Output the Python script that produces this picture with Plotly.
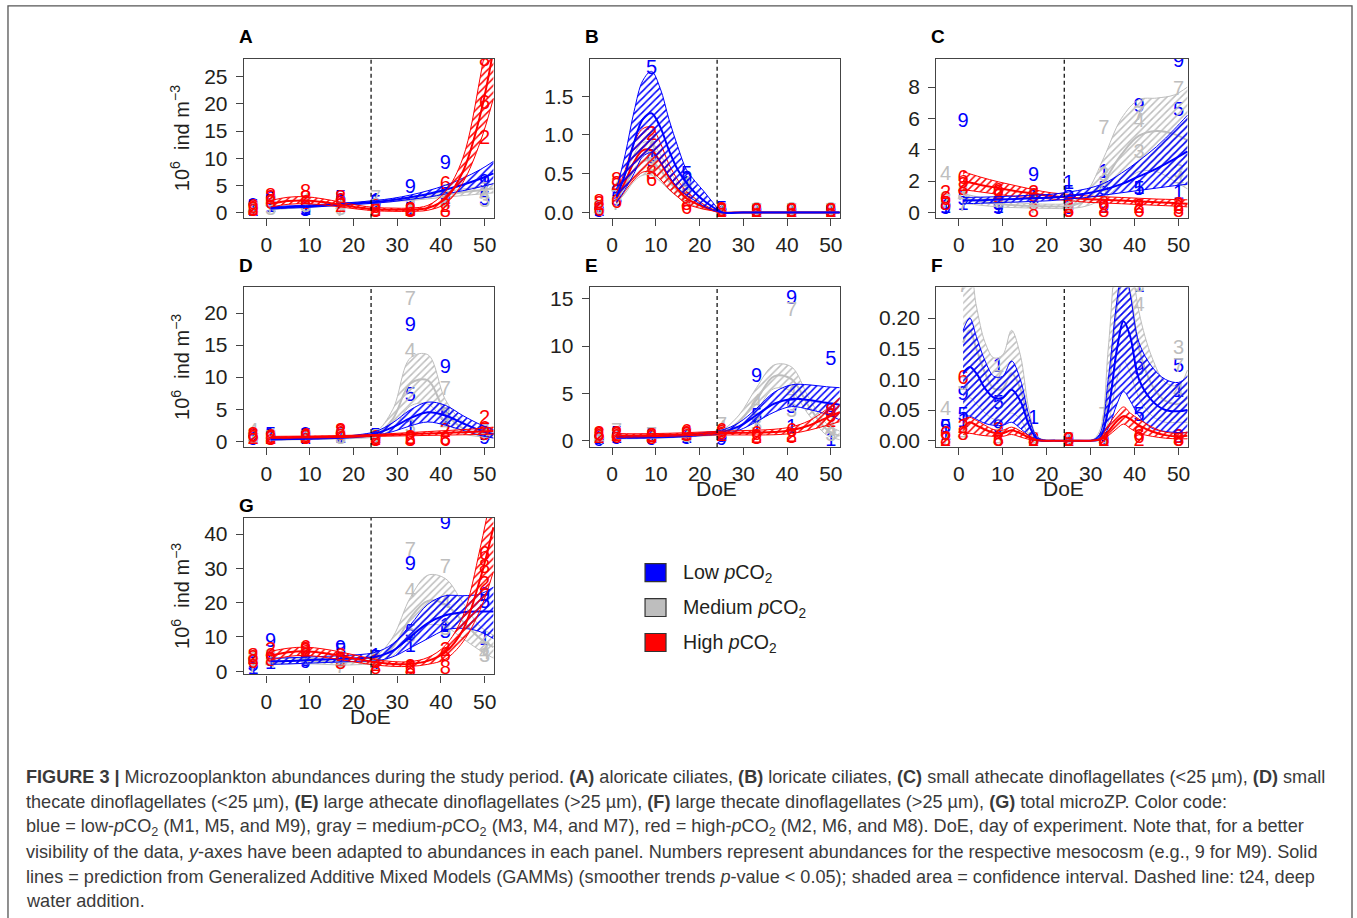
import plotly.graph_objects as go

W, H = 1357, 918

# ---------------- sampling days & fit grids ----------------
DAYS = [-3, 1, 9, 17, 25, 33, 41, 50]
GRID = [1, 5, 9, 13, 17, 21, 25, 29, 33, 37, 41, 45, 49, 52]
GRID_B = [1, 3, 5, 7, 9, 11, 13, 15, 17, 19, 21, 23, 25, 30, 40, 52]
GRID_F = [1, 2.5, 4, 6, 8, 10, 12, 14, 16, 18, 22, 26, 30, 32, 34, 36, 37.5, 39, 41, 44, 47, 50, 52]

LOW_IDS = ["1", "5", "9"]
MED_IDS = ["3", "4", "7"]
HIGH_IDS = ["2", "6", "8"]

# ---------------- Panel A: aloricate ciliates ----------------
A_low_mean = [0.8, 1.0, 1.1, 1.3, 1.5, 1.7, 1.9, 2.3, 2.8, 3.4, 4.2, 5.1, 6.2, 7.2]
A_low_lo = [0.6, 0.8, 0.9, 1.1, 1.3, 1.5, 1.7, 2.0, 2.4, 2.8, 3.4, 4.0, 4.7, 5.3]
A_low_hi = [1.0, 1.2, 1.3, 1.5, 1.7, 1.9, 2.2, 2.6, 3.2, 4.0, 5.0, 6.3, 7.9, 9.4]
A_med_mean = [0.7, 0.9, 1.1, 1.3, 1.5, 1.7, 1.9, 2.2, 2.5, 2.9, 3.3, 3.7, 4.1, 4.4]
A_med_lo = [0.5, 0.7, 0.9, 1.1, 1.3, 1.5, 1.7, 2.0, 2.2, 2.5, 2.8, 3.1, 3.4, 3.6]
A_med_hi = [0.9, 1.1, 1.3, 1.5, 1.7, 1.9, 2.2, 2.4, 2.8, 3.3, 3.8, 4.3, 4.8, 5.3]
A_high_mean = [1.6, 2.1, 2.2, 1.9, 1.4, 0.9, 0.6, 0.5, 0.5, 0.8, 2.5, 7.5, 18, 30]
A_high_lo = [1.0, 1.5, 1.6, 1.4, 1.0, 0.6, 0.3, 0.2, 0.2, 0.4, 1.6, 5.5, 13, 21]
A_high_hi = [2.2, 2.8, 2.9, 2.5, 1.9, 1.3, 0.9, 0.8, 0.8, 1.3, 3.8, 10, 25, 40]
A_M1 = [0.3, 1.0, 0.5, 2.0, 2.0, 0.5, 2.5, 5.0]
A_M5 = [0.8, 1.8, 0.3, 2.5, 1.5, 0.3, 3.0, 2.3]
A_M9 = [1.0, 2.2, 0.6, 1.5, 1.0, 4.5, 9.0, 5.5]
A_M3 = [0.2, 0.5, 1.0, 0.5, 1.0, 1.0, 3.5, 2.0]
A_M4 = [0.5, 1.5, 2.0, 1.0, 0.5, 0.5, 1.5, 3.0]
A_M7 = [0.2, 0.8, 1.5, 0.3, 2.5, 0.8, 2.0, 4.0]
A_M2 = [0.5, 2.5, 2.5, 1.0, 0.3, 0.3, 1.0, 13.5]
A_M6 = [0.8, 1.5, 1.5, 2.0, 0.8, 0.3, 5.0, 20.0]
A_M8 = [0.2, 2.8, 3.5, 2.5, 0.0, 0.0, 0.0, 28.0]

# ---------------- Panel B: loricate ciliates ----------------
B_low_mean = [0.2, 0.5, 0.9, 1.2, 1.28, 1.1, 0.8, 0.55, 0.38, 0.25, 0.15, 0.07, 0.0, 0.0, 0.0, 0.0]
B_low_lo = [0.13, 0.3, 0.5, 0.72, 0.77, 0.65, 0.47, 0.32, 0.22, 0.15, 0.08, 0.03, 0.0, 0.0, 0.0, 0.0]
B_low_hi = [0.3, 0.75, 1.3, 1.7, 1.82, 1.6, 1.2, 0.85, 0.55, 0.4, 0.27, 0.13, 0.01, 0.0, 0.0, 0.0]
B_med_mean = [0.17, 0.35, 0.55, 0.66, 0.66, 0.55, 0.4, 0.28, 0.18, 0.12, 0.07, 0.03, 0.0, 0.0, 0.0, 0.0]
B_med_lo = [0.12, 0.25, 0.4, 0.48, 0.48, 0.4, 0.29, 0.2, 0.13, 0.08, 0.05, 0.02, 0.0, 0.0, 0.0, 0.0]
B_med_hi = [0.23, 0.48, 0.75, 0.9, 0.9, 0.75, 0.55, 0.38, 0.25, 0.17, 0.1, 0.04, 0.0, 0.0, 0.0, 0.0]
B_high_mean = [0.18, 0.4, 0.65, 0.8, 0.8, 0.65, 0.45, 0.3, 0.18, 0.12, 0.07, 0.03, 0.0, 0.0, 0.0, 0.0]
B_high_lo = [0.12, 0.28, 0.42, 0.52, 0.52, 0.43, 0.3, 0.2, 0.11, 0.07, 0.04, 0.02, 0.0, 0.0, 0.0, 0.0]
B_high_hi = [0.25, 0.55, 0.9, 1.08, 1.1, 0.9, 0.62, 0.42, 0.27, 0.18, 0.1, 0.04, 0.0, 0.0, 0.0, 0.0]
B_M1 = [0.02, 0.2, 0.7, 0.35, 0.02, 0.01, 0.01, 0.01]
B_M5 = [0.03, 0.15, 1.85, 0.48, 0.03, 0.01, 0.01, 0.01]
B_M9 = [0.0, 0.25, 0.65, 0.4, 0.0, 0.0, 0.0, 0.0]
B_M3 = [0.05, 0.2, 0.6, 0.3, 0.02, 0.02, 0.02, 0.02]
B_M4 = [0.02, 0.3, 0.8, 0.35, 0.01, 0.01, 0.01, 0.01]
B_M7 = [0.04, 0.1, 0.9, 0.25, 0.01, 0.01, 0.01, 0.01]
B_M2 = [0.1, 0.35, 1.0, 0.15, 0.01, 0.0, 0.0, 0.0]
B_M6 = [0.02, 0.12, 0.4, 0.05, 0.0, 0.0, 0.0, 0.0]
B_M8 = [0.12, 0.4, 0.5, 0.1, 0.02, 0.0, 0.0, 0.0]

# ---------------- Panel C: small athecate dinoflagellates ----------------
C_low_mean = [0.75, 0.78, 0.82, 0.86, 0.9, 0.95, 1.05, 1.2, 1.45, 1.8, 2.3, 2.8, 3.4, 3.9]
C_low_lo = [0.55, 0.58, 0.62, 0.66, 0.7, 0.75, 0.85, 0.95, 1.1, 1.25, 1.4, 1.55, 1.7, 1.8]
C_low_hi = [0.95, 0.97, 1.0, 1.05, 1.1, 1.15, 1.3, 1.5, 1.85, 2.5, 3.3, 4.2, 5.3, 6.2]
C_med_mean = [0.9, 0.7, 0.55, 0.45, 0.4, 0.38, 0.4, 0.8, 2.0, 3.7, 4.9, 5.2, 5.0, 4.6]
C_med_lo = [0.6, 0.45, 0.35, 0.3, 0.27, 0.25, 0.25, 0.4, 0.9, 1.8, 2.6, 2.6, 2.0, 1.5]
C_med_hi = [1.2, 0.95, 0.75, 0.62, 0.55, 0.52, 0.6, 1.3, 3.5, 6.0, 7.2, 7.3, 7.5, 8.0]
C_high_mean = [2.0, 1.75, 1.55, 1.35, 1.2, 1.05, 0.95, 0.85, 0.8, 0.75, 0.7, 0.65, 0.6, 0.55]
C_high_lo = [1.45, 1.3, 1.15, 1.0, 0.95, 0.85, 0.75, 0.65, 0.6, 0.55, 0.5, 0.45, 0.4, 0.35]
C_high_hi = [2.6, 2.25, 1.95, 1.7, 1.45, 1.25, 1.15, 1.05, 1.0, 0.95, 0.9, 0.85, 0.82, 0.8]
C_M1 = [0.3, 0.5, 0.3, 0.9, 1.8, 2.5, 1.5, 1.2]
C_M5 = [0.5, 0.8, 0.5, 1.0, 1.2, 1.4, 1.4, 6.5]
C_M9 = [0.2, 5.8, 0.2, 2.3, 0.2, 0.3, 6.7, 9.6]
C_M3 = [0.8, 1.2, 1.0, 1.0, 0.5, 2.3, 3.8, 2.5]
C_M4 = [2.4, 1.0, 0.8, 0.5, 0.3, 1.5, 5.8, 2.0]
C_M7 = [0.6, 0.4, 0.6, 0.3, 0.3, 5.3, 6.2, 7.8]
C_M2 = [1.2, 1.7, 1.2, 1.2, 0.3, 0.3, 0.3, 0.4]
C_M6 = [0.8, 2.1, 1.3, 1.0, 0.0, 0.5, 0.0, 0.2]
C_M8 = [0.5, 1.4, 0.9, 0.0, 0.0, 0.0, 0.3, 0.0]

# ---------------- Panel D: small thecate dinoflagellates ----------------
D_low_mean = [0.3, 0.35, 0.4, 0.48, 0.6, 0.8, 1.2, 2.2, 3.6, 4.5, 4.0, 2.8, 1.7, 1.1]
D_low_lo = [0.2, 0.25, 0.3, 0.36, 0.45, 0.6, 0.9, 1.5, 2.4, 3.0, 2.5, 1.7, 0.9, 0.5]
D_low_hi = [0.4, 0.45, 0.5, 0.6, 0.72, 1.0, 1.5, 2.9, 4.9, 6.1, 5.6, 4.0, 2.6, 1.8]
D_med_mean = [0.3, 0.35, 0.4, 0.45, 0.55, 0.7, 1.0, 3.5, 9.0, 9.5, 4.5, 2.0, 1.2, 0.9]
D_med_lo = [0.15, 0.2, 0.25, 0.3, 0.35, 0.45, 0.7, 2.0, 5.5, 5.8, 3.0, 1.2, 0.7, 0.5]
D_med_hi = [0.45, 0.5, 0.55, 0.6, 0.75, 0.95, 1.4, 5.0, 13.0, 13.5, 6.5, 3.0, 1.8, 1.4]
D_high_mean = [0.6, 0.62, 0.65, 0.68, 0.72, 0.8, 0.9, 1.0, 1.1, 1.2, 1.3, 1.4, 1.5, 1.6]
D_high_lo = [0.45, 0.47, 0.5, 0.53, 0.56, 0.65, 0.75, 0.8, 0.85, 0.9, 0.95, 1.0, 1.05, 1.1]
D_high_hi = [0.75, 0.77, 0.8, 0.83, 0.88, 0.95, 1.05, 1.2, 1.35, 1.5, 1.65, 1.8, 2.0, 2.2]
D_M1 = [0.3, 0.4, 0.3, 0.5, 0.5, 2.0, 3.5, 1.0]
D_M5 = [0.5, 0.8, 0.6, 0.8, 0.7, 7.0, 4.0, 1.5]
D_M9 = [0.2, 0.7, 0.8, 0.5, 0.3, 18.0, 11.5, 0.3]
D_M3 = [0.4, 0.3, 0.5, 0.3, 0.5, 2.0, 4.0, 1.2]
D_M4 = [1.5, 0.6, 0.3, 0.6, 0.4, 14.0, 2.5, 1.0]
D_M7 = [0.3, 0.4, 0.4, 0.4, 0.4, 22.0, 8.0, 0.8]
D_M2 = [0.4, 0.3, 0.5, 1.2, 0.2, 0.3, 1.5, 3.5]
D_M6 = [0.6, 0.5, 0.6, 0.9, 0.3, 0.2, 0.1, 1.8]
D_M8 = [0.8, 0.2, 0.4, 1.5, 0.1, 0.0, 0.2, 1.0]

# ---------------- Panel E: large athecate dinoflagellates ----------------
E_low_mean = [0.35, 0.35, 0.38, 0.45, 0.55, 0.7, 0.9, 1.5, 2.7, 3.9, 4.4, 4.3, 4.0, 3.8]
E_low_lo = [0.25, 0.25, 0.28, 0.33, 0.42, 0.55, 0.7, 1.1, 2.0, 3.0, 3.6, 3.3, 2.8, 2.2]
E_low_hi = [0.45, 0.45, 0.5, 0.58, 0.68, 0.85, 1.1, 1.9, 3.4, 5.1, 5.9, 5.9, 5.7, 5.6]
E_med_mean = [0.3, 0.3, 0.35, 0.4, 0.5, 0.65, 0.85, 2.0, 4.3, 6.8, 6.5, 3.6, 1.2, 0.5]
E_med_lo = [0.2, 0.2, 0.25, 0.3, 0.38, 0.5, 0.65, 1.4, 3.2, 5.5, 5.2, 2.7, 0.6, 0.1]
E_med_hi = [0.4, 0.4, 0.45, 0.5, 0.62, 0.8, 1.1, 2.7, 5.6, 8.0, 7.8, 4.5, 1.8, 1.0]
E_high_mean = [0.55, 0.55, 0.58, 0.62, 0.68, 0.75, 0.8, 0.82, 0.85, 0.9, 1.1, 1.6, 2.4, 3.0]
E_high_lo = [0.35, 0.38, 0.42, 0.46, 0.52, 0.58, 0.6, 0.6, 0.6, 0.62, 0.75, 1.1, 1.6, 2.0]
E_high_hi = [0.75, 0.72, 0.74, 0.78, 0.84, 0.92, 1.0, 1.05, 1.1, 1.2, 1.45, 2.1, 3.3, 4.5]
E_M1 = [0.2, 0.3, 0.3, 0.3, 0.5, 1.3, 1.3, 0.0]
E_M5 = [0.3, 0.6, 0.4, 0.5, 0.4, 2.5, 3.5, 8.5]
E_M9 = [0.0, 0.2, 0.1, 0.2, 0.1, 6.7, 15.0, 3.0]
E_M3 = [0.5, 0.4, 0.3, 0.4, 0.8, 1.5, 3.0, 0.5]
E_M4 = [0.2, 0.5, 0.2, 0.3, 1.2, 4.0, 5.0, 1.0]
E_M7 = [0.3, 0.9, 0.5, 0.4, 1.5, 2.0, 13.7, 2.0]
E_M2 = [0.3, 0.5, 0.4, 0.6, 0.5, 0.3, 0.4, 2.0]
E_M6 = [0.5, 0.3, 0.4, 0.8, 0.9, 0.6, 0.9, 2.5]
E_M8 = [0.6, 0.6, 0.2, 0.5, 0.7, 0.2, 0.3, 3.0]

# ---------------- Panel F: large thecate dinoflagellates ----------------
F_low_mean = [0.11, 0.12, 0.11, 0.085, 0.07, 0.07, 0.083, 0.065, 0.025, 0.002, 0, 0, 0, 0.003, 0.05, 0.15, 0.195, 0.17, 0.10, 0.065, 0.05, 0.048, 0.05]
F_low_lo = [0.04, 0.04, 0.035, 0.028, 0.025, 0.025, 0.03, 0.02, 0.008, 0, 0, 0, 0, 0.001, 0.02, 0.06, 0.08, 0.065, 0.04, 0.02, 0.015, 0.013, 0.013]
F_low_hi = [0.18, 0.20, 0.17, 0.13, 0.105, 0.105, 0.13, 0.10, 0.04, 0.005, 0, 0, 0, 0.01, 0.10, 0.23, 0.29, 0.24, 0.16, 0.12, 0.10, 0.095, 0.105]
F_med_mean = [0.16, 0.18, 0.15, 0.11, 0.085, 0.085, 0.11, 0.085, 0.03, 0.003, 0, 0, 0, 0.005, 0.08, 0.22, 0.27, 0.24, 0.15, 0.09, 0.065, 0.06, 0.07]
F_med_lo = [0.06, 0.07, 0.06, 0.045, 0.035, 0.035, 0.045, 0.035, 0.01, 0.001, 0, 0, 0, 0.002, 0.03, 0.1, 0.13, 0.11, 0.07, 0.04, 0.03, 0.03, 0.03]
F_med_hi = [0.27, 0.28, 0.22, 0.16, 0.135, 0.14, 0.18, 0.14, 0.05, 0.006, 0, 0, 0, 0.015, 0.15, 0.32, 0.36, 0.31, 0.21, 0.135, 0.095, 0.09, 0.115]
F_high_mean = [0.02, 0.03, 0.025, 0.018, 0.013, 0.012, 0.017, 0.012, 0.005, 0.0005, 0, 0, 0, 0.002, 0.015, 0.032, 0.04, 0.035, 0.025, 0.015, 0.009, 0.007, 0.008]
F_high_lo = [0.01, 0.012, 0.01, 0.008, 0.007, 0.007, 0.01, 0.006, 0.002, 0, 0, 0, 0, 0.001, 0.008, 0.02, 0.027, 0.02, 0.012, 0.007, 0.004, 0.003, 0.003]
F_high_hi = [0.035, 0.038, 0.033, 0.025, 0.018, 0.017, 0.022, 0.016, 0.008, 0.001, 0, 0, 0, 0.003, 0.025, 0.045, 0.055, 0.045, 0.035, 0.022, 0.014, 0.012, 0.014]
F_M1 = [0.01, 0.03, 0.12, 0.035, 0.0, 0.0, 0.25, 0.08]
F_M5 = [0.02, 0.04, 0.06, 0.0, 0.0, 0.0, 0.04, 0.12]
F_M9 = [0.02, 0.075, 0.02, 0.0, 0.0, 0.0, 0.115, 0.005]
F_M3 = [0.0, 0.09, 0.015, 0.0, 0.0, 0.0, 0.25, 0.15]
F_M4 = [0.05, 0.01, 0.0, 0.0, 0.0, 0.0, 0.22, 0.08]
F_M7 = [0.0, 0.25, 0.10, 0.0, 0.0, 0.04, 0.25, 0.12]
F_M2 = [0.0, 0.02, 0.015, 0.0, 0.0, 0.0, 0.0, 0.005]
F_M6 = [0.01, 0.1, 0.0, 0.0, 0.0, 0.0, 0.005, 0.0]
F_M8 = [0.0, 0.01, 0.0, 0.0, 0.0, 0.0, 0.01, 0.0]

# ---------------- Panel G: total microZP ----------------
G_low_mean = [2.9, 3.0, 3.2, 3.4, 3.6, 3.8, 4.2, 6.0, 10.0, 14.0, 16.3, 17.2, 17.4, 17.4]
G_low_lo = [2.0, 2.1, 2.3, 2.5, 2.7, 2.9, 3.0, 4.2, 6.8, 9.5, 12.0, 12.5, 11.5, 9.5]
G_low_hi = [3.8, 3.9, 4.1, 4.3, 4.5, 4.8, 5.5, 8.0, 13.5, 19.5, 22.0, 22.0, 22.5, 24.5]
G_med_mean = [2.8, 3.0, 3.0, 2.8, 2.6, 2.7, 3.3, 7.0, 15.5, 20.5, 19.5, 14.5, 9.5, 7.0]
G_med_lo = [2.0, 2.2, 2.2, 2.0, 1.8, 1.9, 2.3, 4.5, 10.5, 13.5, 13.0, 9.5, 6.0, 3.8]
G_med_hi = [3.6, 3.8, 3.8, 3.6, 3.4, 3.5, 4.3, 10.0, 21.5, 28.0, 27.0, 20.0, 13.0, 10.5]
G_high_mean = [4.5, 5.5, 5.8, 5.3, 4.5, 3.5, 2.6, 2.1, 2.1, 3.0, 5.5, 12.0, 27.0, 42.0]
G_high_lo = [3.2, 4.3, 4.6, 4.1, 3.4, 2.5, 1.8, 1.4, 1.4, 2.0, 3.5, 8.5, 18.0, 29.0]
G_high_hi = [5.8, 6.7, 7.0, 6.5, 5.6, 4.5, 3.4, 2.8, 2.8, 4.0, 7.5, 16.0, 36.0, 55.0]
G_M1 = [0.5, 2.0, 4.5, 3.0, 4.0, 7.0, 13.0, 9.0]
G_M5 = [1.5, 3.0, 3.0, 5.5, 3.5, 11.0, 11.0, 20.0]
G_M9 = [2.0, 8.5, 2.5, 6.5, 2.0, 31.0, 43.0, 22.0]
G_M3 = [3.0, 4.0, 4.5, 2.5, 3.0, 10.0, 12.0, 4.0]
G_M4 = [4.0, 2.5, 5.0, 3.5, 3.0, 23.0, 20.0, 5.0]
G_M7 = [1.0, 3.5, 6.0, 1.0, 1.5, 35.0, 30.0, 6.0]
G_M2 = [3.5, 6.0, 5.5, 3.0, 1.5, 1.0, 6.0, 25.0]
G_M6 = [2.5, 4.0, 6.5, 4.0, 2.5, 0.5, 4.5, 34.0]
G_M8 = [4.0, 3.0, 6.0, 2.0, 0.5, 0.0, 0.5, 30.0]

# ---------------- axis ticks ----------------
A_yticks = [0, 5, 10, 15, 20, 25]
B_yticks = [0, 0.5, 1.0, 1.5]
B_yticklabels = ["0.0", "0.5", "1.0", "1.5"]
C_yticks = [0, 2, 4, 6, 8]
D_yticks = [0, 5, 10, 15, 20]
E_yticks = [0, 5, 10, 15]
F_yticks = [0, 0.05, 0.10, 0.15, 0.20]
F_yticklabels = ["0.00", "0.05", "0.10", "0.15", "0.20"]
G_yticks = [0, 10, 20, 30, 40]
X_TICKS = [0, 10, 20, 30, 40, 50]
T24 = 24

COL = {"low": "#0000FF", "med": "#BEBEBE", "high": "#FF0000"}
IDS = {"low": LOW_IDS, "med": MED_IDS, "high": HIGH_IDS}

VSCALE = 1.008


def px_x(p):
    return p / W


def px_y(p):
    return 1 - p * VSCALE / H


# pixel boxes of each panel (left, right, top, bottom)
COLS = [(244.3, 495.0), (590.7, 841.7), (937.7, 1190.0)]
ROWS = [(59.0, 218.0), (287.7, 447.3), (518.3, 675.0)]
LETTER_Y = [37, 266, 506]

PANELS = [
    dict(key="A", col=0, row=0, grid=GRID, yr=[-1.0, 28.3], yt=A_yticks, ytl=None, ytitle=True, xtitle=False,
         fits={"med": (A_med_mean, A_med_lo, A_med_hi), "low": (A_low_mean, A_low_lo, A_low_hi), "high": (A_high_mean, A_high_lo, A_high_hi)},
         pts={"1": A_M1, "5": A_M5, "9": A_M9, "3": A_M3, "4": A_M4, "7": A_M7, "2": A_M2, "6": A_M6, "8": A_M8}),
    dict(key="B", col=1, row=0, grid=GRID_B, yr=[-0.07, 1.98], yt=B_yticks, ytl=B_yticklabels, ytitle=False, xtitle=False,
         fits={"med": (B_med_mean, B_med_lo, B_med_hi), "high": (B_high_mean, B_high_lo, B_high_hi), "low": (B_low_mean, B_low_lo, B_low_hi)},
         pts={"1": B_M1, "5": B_M5, "9": B_M9, "3": B_M3, "4": B_M4, "7": B_M7, "2": B_M2, "6": B_M6, "8": B_M8}),
    dict(key="C", col=2, row=0, grid=GRID, yr=[-0.35, 9.8], yt=C_yticks, ytl=None, ytitle=False, xtitle=False,
         fits={"med": (C_med_mean, C_med_lo, C_med_hi), "high": (C_high_mean, C_high_lo, C_high_hi), "low": (C_low_mean, C_low_lo, C_low_hi)},
         pts={"1": C_M1, "5": C_M5, "9": C_M9, "3": C_M3, "4": C_M4, "7": C_M7, "2": C_M2, "6": C_M6, "8": C_M8}),
    dict(key="D", col=0, row=1, grid=GRID, yr=[-0.9, 24.0], yt=D_yticks, ytl=None, ytitle=True, xtitle=False,
         fits={"med": (D_med_mean, D_med_lo, D_med_hi), "low": (D_low_mean, D_low_lo, D_low_hi), "high": (D_high_mean, D_high_lo, D_high_hi)},
         pts={"1": D_M1, "5": D_M5, "9": D_M9, "3": D_M3, "4": D_M4, "7": D_M7, "2": D_M2, "6": D_M6, "8": D_M8}),
    dict(key="E", col=1, row=1, grid=GRID, yr=[-0.67, 16.2], yt=E_yticks, ytl=None, ytitle=False, xtitle=True,
         fits={"med": (E_med_mean, E_med_lo, E_med_hi), "low": (E_low_mean, E_low_lo, E_low_hi), "high": (E_high_mean, E_high_lo, E_high_hi)},
         pts={"1": E_M1, "5": E_M5, "9": E_M9, "3": E_M3, "4": E_M4, "7": E_M7, "2": E_M2, "6": E_M6, "8": E_M8}),
    dict(key="F", col=2, row=1, grid=GRID_F, yr=[-0.0103, 0.25], yt=F_yticks, ytl=F_yticklabels, ytitle=False, xtitle=True,
         fits={"med": (F_med_mean, F_med_lo, F_med_hi), "low": (F_low_mean, F_low_lo, F_low_hi), "high": (F_high_mean, F_high_lo, F_high_hi)},
         pts={"1": F_M1, "5": F_M5, "9": F_M9, "3": F_M3, "4": F_M4, "7": F_M7, "2": F_M2, "6": F_M6, "8": F_M8}),
    dict(key="G", col=0, row=2, grid=GRID, yr=[-0.96, 44.7], yt=G_yticks, ytl=None, ytitle=True, xtitle=True,
         fits={"med": (G_med_mean, G_med_lo, G_med_hi), "low": (G_low_mean, G_low_lo, G_low_hi), "high": (G_high_mean, G_high_lo, G_high_hi)},
         pts={"1": G_M1, "5": G_M5, "9": G_M9, "3": G_M3, "4": G_M4, "7": G_M7, "2": G_M2, "6": G_M6, "8": G_M8}),
]

FONT = "Liberation Sans, Arial, Helvetica, sans-serif"
AXC = "#444444"
TXT = "#231f20"

fig = go.Figure()
layout = dict(width=W, height=H, margin=dict(l=0, r=0, t=0, b=0),
              plot_bgcolor="white", paper_bgcolor="white", showlegend=False,
              font=dict(family=FONT, color=TXT))
annotations = []
shapes = []

GROUP_OF = {}
for g, ids in IDS.items():
    for i in ids:
        GROUP_OF[i] = g

for n, P in enumerate(PANELS, start=1):
    xa = "x" if n == 1 else f"x{n}"
    ya = "y" if n == 1 else f"y{n}"
    xl, xr = COLS[P["col"]]
    yt, yb = ROWS[P["row"]]
    layout["xaxis" if n == 1 else f"xaxis{n}"] = dict(
        domain=[px_x(xl), px_x(xr)], range=[-5.1, 52.2], anchor=ya,
        tickvals=X_TICKS, ticks="outside", ticklen=7, tickwidth=1.2, tickcolor=AXC,
        showline=True, mirror=True, linecolor=AXC, linewidth=1.4,
        showgrid=False, zeroline=False, fixedrange=True,
        tickfont=dict(size=21, family=FONT, color=TXT), ticklabelstandoff=1)
    ydict = dict(
        domain=[px_y(yb), px_y(yt)], range=P["yr"], anchor=xa,
        tickvals=P["yt"], ticks="outside", ticklen=7, tickwidth=1.2, tickcolor=AXC,
        showline=True, mirror=True, linecolor=AXC, linewidth=1.4,
        showgrid=False, zeroline=False, fixedrange=True,
        tickfont=dict(size=21, family=FONT, color=TXT), ticklabelstandoff=4)
    if P["ytl"] is not None:
        ydict["ticktext"] = P["ytl"]
    layout["yaxis" if n == 1 else f"yaxis{n}"] = ydict

    # numbered observations
    for mid, vals in P["pts"].items():
        fig.add_trace(go.Scatter(
            x=DAYS, y=vals, mode="text", text=[mid] * len(DAYS),
            textfont=dict(size=20, family=FONT, color=COL[GROUP_OF[mid]]),
            xaxis=xa, yaxis=ya, hoverinfo="skip"))

    # GAMM predictions with hatched confidence bands
    for g, (mean, lo, hi) in P["fits"].items():
        c = COL[g]
        fig.add_trace(go.Scatter(x=P["grid"], y=lo, mode="lines", line=dict(color=c, width=1, shape="spline", smoothing=1),
                                 xaxis=xa, yaxis=ya, hoverinfo="skip"))
        fig.add_trace(go.Scatter(x=P["grid"], y=hi, mode="lines", line=dict(color=c, width=1, shape="spline", smoothing=1),
                                 fill="tonexty", fillcolor="rgba(255,255,255,0)",
                                 fillpattern=dict(shape="/", fgcolor=c, bgcolor="rgba(255,255,255,0)",
                                                  size=5, solidity=0.3, fillmode="replace"),
                                 xaxis=xa, yaxis=ya, hoverinfo="skip"))
        fig.add_trace(go.Scatter(x=P["grid"], y=mean, mode="lines", line=dict(color=c, width=2, shape="spline", smoothing=1),
                                 xaxis=xa, yaxis=ya, hoverinfo="skip"))

    # dashed line at t24 (deep water addition)
    shapes.append(dict(type="line", xref=xa, yref=f"{ya} domain", x0=T24, x1=T24, y0=0, y1=1,
                       line=dict(color="black", width=1.2, dash="4px,3px")))

    # panel letter
    annotations.append(dict(text=f"<b>{P['key']}</b>", x=px_x(xl - 7), y=px_y(LETTER_Y[P["row"]]),
                            xref="paper", yref="paper", xanchor="left", yanchor="middle", showarrow=False,
                            font=dict(size=19, family=FONT, color="black")))
    if P["ytitle"]:
        annotations.append(dict(text="10<sup>6</sup>  ind m<sup>−3</sup>", x=px_x(180), y=px_y((yt + yb) / 2),
                                xref="paper", yref="paper", textangle=-90, showarrow=False,
                                xanchor="center", yanchor="middle",
                                font=dict(size=20, family=FONT, color=TXT)))
    if P["xtitle"]:
        annotations.append(dict(text="DoE", x=px_x((xl + xr) / 2 + 1), y=px_y(yb + 42),
                                xref="paper", yref="paper", showarrow=False,
                                xanchor="center", yanchor="middle",
                                font=dict(size=21, family=FONT, color=TXT)))

# legend
LEG = [("Low <i>p</i>CO<sub>2</sub>", COL["low"], 573), ("Medium <i>p</i>CO<sub>2</sub>", COL["med"], 608),
       ("High <i>p</i>CO<sub>2</sub>", COL["high"], 643)]
for label, c, yc in LEG:
    shapes.append(dict(type="rect", xref="paper", yref="paper",
                       x0=px_x(646), x1=px_x(667), y0=px_y(yc + 9), y1=px_y(yc - 9),
                       fillcolor=c, line=dict(color="#333333", width=1.2)))
    annotations.append(dict(text=label, x=px_x(682), y=px_y(yc + 1), xref="paper", yref="paper",
                            xanchor="left", yanchor="middle", showarrow=False,
                            font=dict(size=19.6, family=FONT, color=TXT)))

# outer frame
shapes.append(dict(type="rect", xref="paper", yref="paper", x0=px_x(8), x1=px_x(1354), y0=-0.01, y1=1 - 6 / H,
                   line=dict(color="#555555", width=1.3), fillcolor="rgba(0,0,0,0)", layer="below"))

# caption
CAPTION = [
    "<b>FIGURE 3 |</b> Microzooplankton abundances during the study period. <b>(A)</b> aloricate ciliates, <b>(B)</b> loricate ciliates, <b>(C)</b> small athecate dinoflagellates (&lt;25 µm), <b>(D)</b> small",
    "thecate dinoflagellates (&lt;25 µm), <b>(E)</b> large athecate dinoflagellates (&gt;25 µm), <b>(F)</b> large thecate dinoflagellates (&gt;25 µm), <b>(G)</b> total microZP. Color code:",
    "blue = low-<i>p</i>CO<sub>2</sub> (M1, M5, and M9), gray = medium-<i>p</i>CO<sub>2</sub> (M3, M4, and M7), red = high-<i>p</i>CO<sub>2</sub> (M2, M6, and M8). DoE, day of experiment. Note that, for a better",
    "visibility of the data, <i>y</i>-axes have been adapted to abundances in each panel. Numbers represent abundances for the respective mesocosm (e.g., 9 for M9). Solid",
    "lines = prediction from Generalized Additive Mixed Models (GAMMs) (smoother trends <i>p</i>-value &lt; 0.05); shaded area = confidence interval. Dashed line: t24, deep",
    "water addition.",
]
CAP_Y = [778, 803, 828, 853, 878, 902]
for line, yc in zip(CAPTION, CAP_Y):
    annotations.append(dict(text=line, x=px_x(24), y=px_y(yc), xref="paper", yref="paper",
                            xanchor="left", yanchor="middle", showarrow=False, align="left",
                            font=dict(size=18.1, family="Liberation Sans, Arial", color="#3a3a3a")))

layout["annotations"] = annotations
layout["shapes"] = shapes
fig.update_layout(**layout)
fig.write_html("out.html", config={"displayModeBar": False},
               post_script="document.body.style.margin='0px';document.body.style.overflow='hidden';")
